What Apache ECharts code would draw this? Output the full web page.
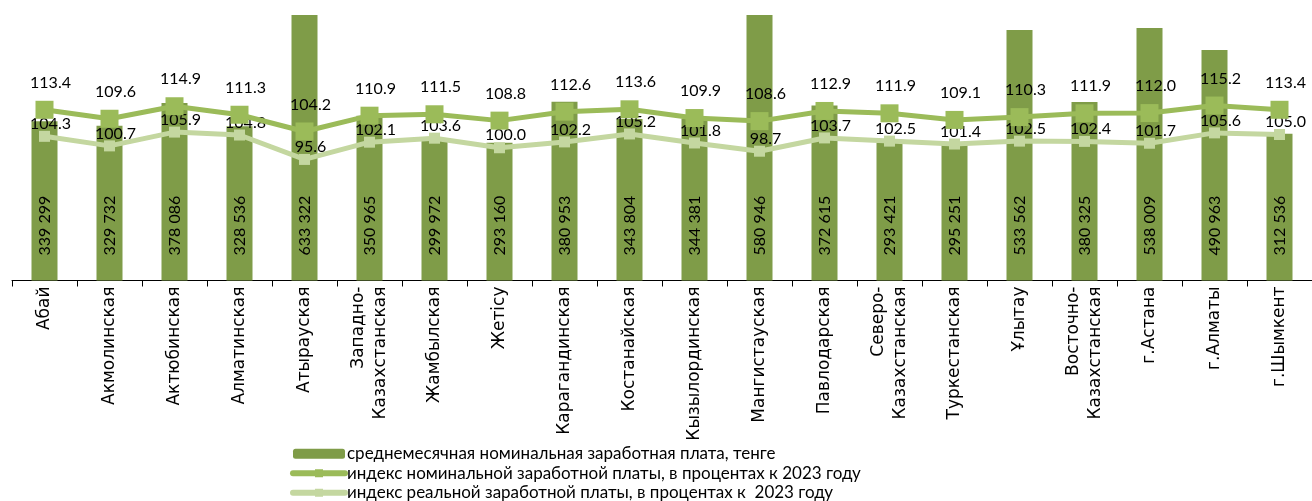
<!DOCTYPE html>
<html>
<head>
<meta charset="utf-8">
<script src="https://cdn.jsdelivr.net/npm/echarts@6/dist/echarts.min.js"></script>
<style>html,body{margin:0;padding:0;background:#fff}#c{width:1312px;height:501px}</style>
</head>
<body>
<div id="c"></div>
<script>
const categories = ['Абай','Акмолинская','Актюбинская','Алматинская','Атырауская','Западно-\nКазахстанская','Жамбылская','Жетісу','Карагандинская','Костанайская','Кызылординская','Мангистауская','Павлодарская','Северо-\nКазахстанская','Туркестанская','Ұлытау','Восточно-\nКазахстанская','г.Астана','г.Алматы','г.Шымкент'];
const wages = [339299,329732,378086,328536,633322,350965,299972,293160,380953,343804,344381,580946,372615,293421,295251,533562,380325,538009,490963,312536];
const nominalIndex = [113.4,109.6,114.9,111.3,104.2,110.9,111.5,108.8,112.6,113.6,109.9,108.6,112.9,111.9,109.1,110.3,111.9,112.0,115.2,113.4];
const realIndex = [104.3,100.7,105.9,104.8,95.6,102.1,103.6,100.0,102.2,105.2,101.8,98.7,103.7,102.5,101.4,102.5,102.4,101.7,105.6,105.0];
const seriesNames = ['среднемесячная номинальная заработная плата, тенге','индекс номинальной заработной платы, в процентах к 2023 году','индекс реальной заработной платы, в процентах к  2023 году'];

const chart = echarts.init(document.getElementById('c'));
const fmtThousands = v => String(v).replace(/\B(?=(\d{3})+(?!\d))/g, ' ');
chart.setOption({
  animation: false,
  textStyle: {fontFamily: 'Lato'},
  grid: {left: 12, right: 0, top: 15, bottom: 220.5},
  legend: {
    orient: 'vertical', left: 290, top: 444, height: 60, padding: 0,
    itemWidth: 52, itemHeight: 10, itemGap: 0,
    textStyle: {fontFamily: 'Lato', fontSize: 17, lineHeight: 17.5, color: '#000', padding: [2,0,0,-3]},
    data: [
      {name: seriesNames[0]},
      {name: seriesNames[1], lineStyle: {width: 6, cap: 'round'}},
      {name: seriesNames[2], lineStyle: {width: 6, cap: 'round'}}
    ]
  },
  xAxis: {
    type: 'category', data: categories,
    axisLine: {lineStyle: {color: '#000', width: 1}},
    axisTick: {show: true, length: 6, lineStyle: {color: '#000'}},
    axisLabel: {rotate: 90, interval: 0, margin: 6, fontFamily: 'DejaVu Sans', fontSize: 17, color: '#000', lineHeight: 22}
  },
  yAxis: [
    {type: 'value', min: 0, max: 565500, show: false, splitLine: {show: false}},
    {type: 'value', min: 41, max: 153.6, show: false, splitLine: {show: false}},
    {type: 'value', min: 50, max: 150, show: false, splitLine: {show: false}}
  ],
  series: [
    {
      name: seriesNames[0], type: 'bar', yAxisIndex: 0, data: wages,
      barWidth: '40%', clip: true,
      itemStyle: {color: '#7f9c48'},
      label: {
        show: true, position: 'insideBottom', rotate: 90, distance: 25,
        align: 'left', verticalAlign: 'middle',
        fontFamily: 'Lato', fontSize: 16, color: '#000',
        formatter: p => fmtThousands(p.value)
      }
    },
    {
      name: seriesNames[2], type: 'line', yAxisIndex: 2, data: realIndex,
      symbol: 'rect', symbolSize: 11,
      lineStyle: {color: '#c4d7a0', width: 5},
      itemStyle: {color: '#c4d7a0'},
      label: {show: true, position: 'top', distance: -1, offset: [6, 0], fontFamily: 'Lato', fontSize: 16, color: '#000', formatter: p => p.value.toFixed(1)},
      z: 3
    },
    {
      name: seriesNames[1], type: 'line', yAxisIndex: 1, data: nominalIndex,
      symbol: 'rect', symbolSize: 18,
      lineStyle: {color: '#9bbb59', width: 5},
      itemStyle: {color: '#9bbb59'},
      label: {show: true, position: 'top', distance: 10, offset: [6, 0], fontFamily: 'Lato', fontSize: 16, color: '#000', formatter: p => p.value.toFixed(1)},
      z: 4
    }
  ]
});
</script>
</body>
</html>
